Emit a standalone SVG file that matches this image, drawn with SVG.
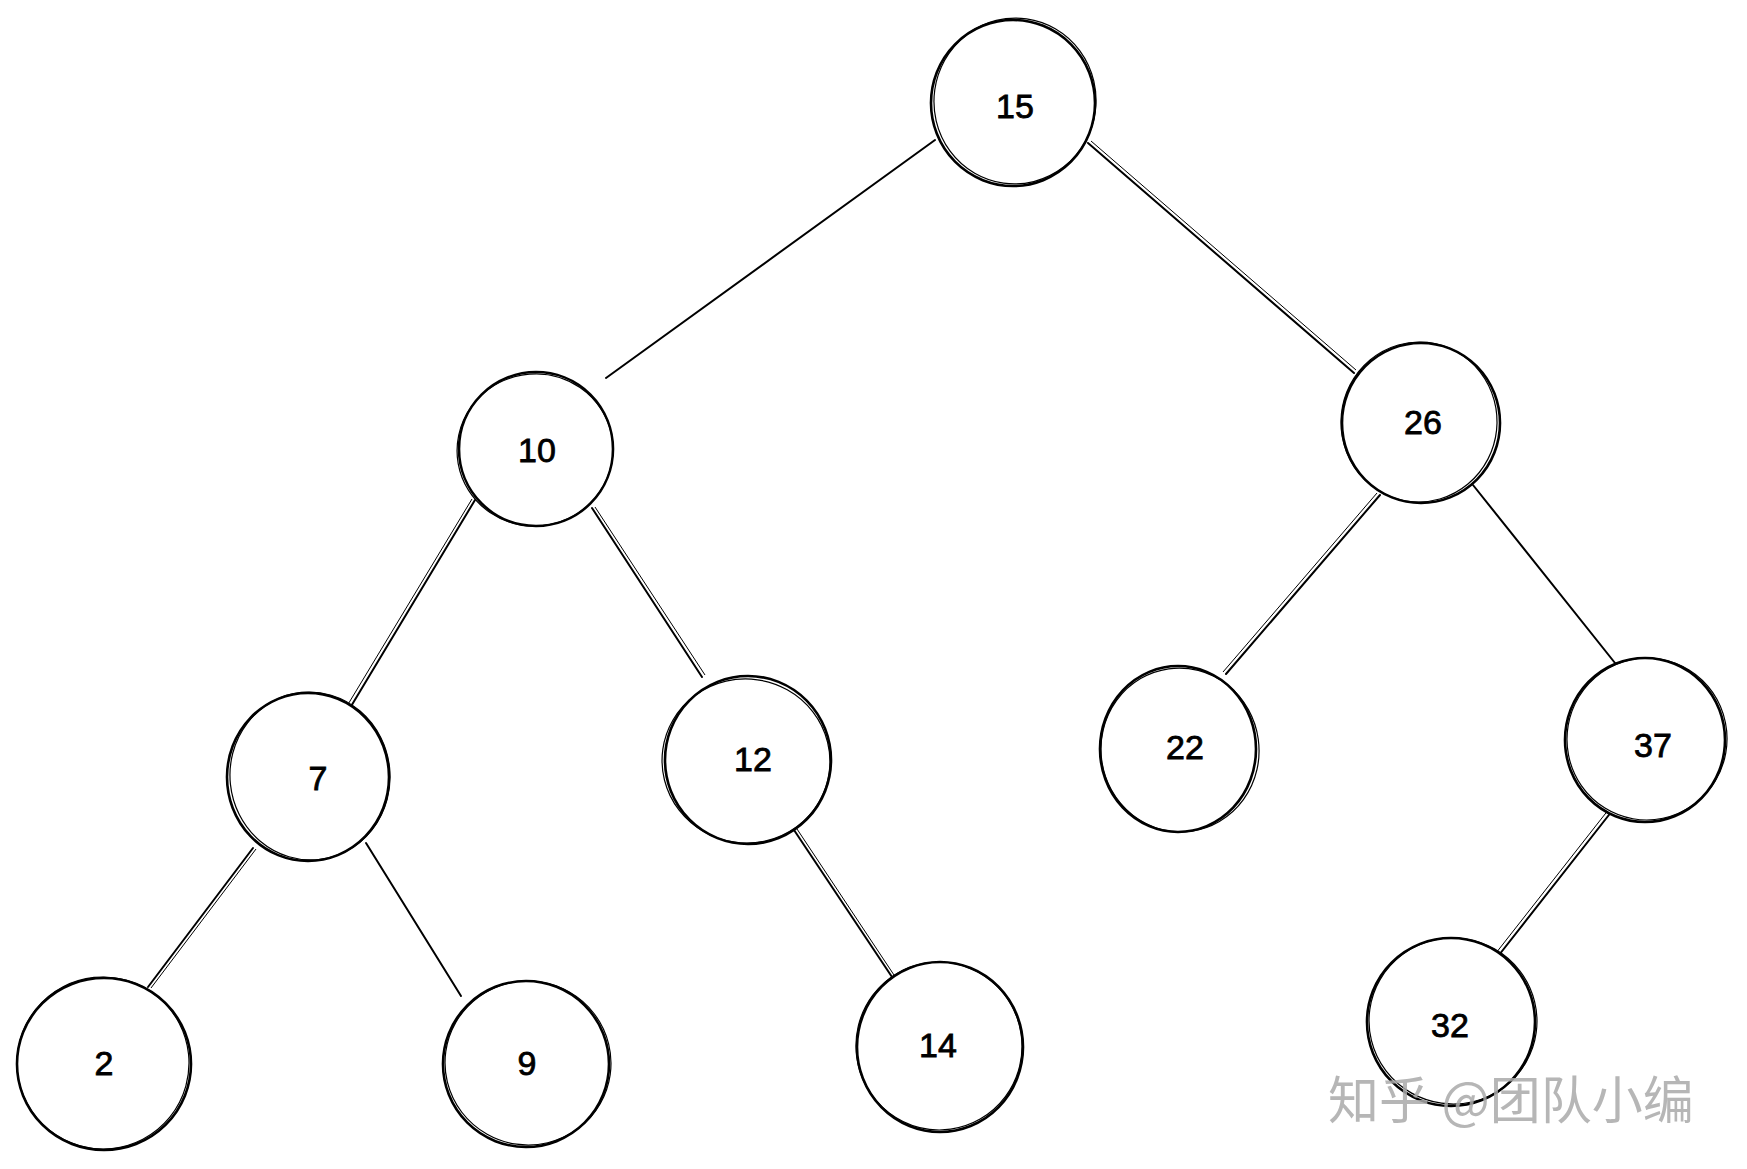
<svg xmlns="http://www.w3.org/2000/svg" width="1747" height="1169" viewBox="0 0 1747 1169">
<style>
.c{fill:#fff;stroke:#000;stroke-width:2.6}
.c2{fill:none;stroke:#000;stroke-width:1.2}
.e{stroke:#000;stroke-width:2;fill:none;stroke-linecap:round}
.e2{stroke:#000;stroke-width:1;fill:none}
.t{font-family:"Liberation Sans","DejaVu Sans",sans-serif;font-size:34px;fill:#000;stroke:#000;stroke-width:0.8;text-anchor:middle;dominant-baseline:central}
.wm{font-family:"Noto Sans CJK SC","Noto Sans",sans-serif;font-size:51px;fill:#a9a9a9;fill-opacity:0.85}
</style>
<rect width="1747" height="1169" fill="#fff"/>
<g id="edges">
<line class="e" x1="935" y1="140" x2="606" y2="378"/>
<line class="e" x1="1088" y1="143" x2="1354" y2="373"/><line class="e2" x1="1091" y1="141" x2="1356" y2="370"/>
<line class="e" x1="475" y1="500" x2="350" y2="708"/><line class="e2" x1="472" y1="499" x2="347" y2="706"/>
<line class="e" x1="592" y1="508" x2="702" y2="677"/><line class="e2" x1="595" y1="507" x2="705" y2="675"/>
<line class="e" x1="1380" y1="495" x2="1226" y2="674"/><line class="e2" x1="1377" y1="493" x2="1223" y2="672"/>
<line class="e" x1="1473" y1="485" x2="1615" y2="663"/>
<line class="e" x1="253" y1="848" x2="148" y2="987"/><line class="e2" x1="256" y1="849" x2="151" y2="988"/>
<line class="e" x1="366" y1="843" x2="461" y2="996"/>
<line class="e" x1="794" y1="830" x2="892" y2="977"/><line class="e2" x1="797" y1="829" x2="894" y2="975"/>
<line class="e" x1="1612" y1="811" x2="1499" y2="955"/><line class="e2" x1="1609" y1="809" x2="1496" y2="953"/>
</g>
<g id="n15"><ellipse class="c" cx="1013" cy="103" rx="82" ry="83"/><ellipse class="c2" cx="1015" cy="101" rx="81" ry="83" transform="rotate(8 1015 101)"/><text class="t" x="1015" y="106">15</text></g>
<g id="n10"><ellipse class="c" cx="536" cy="449" rx="77" ry="77"/><ellipse class="c2" cx="535" cy="450" rx="78" ry="76" transform="rotate(-10 535 450)"/><text class="t" x="537" y="450">10</text></g>
<g id="n26"><ellipse class="c" cx="1421" cy="423" rx="79" ry="80"/><ellipse class="c2" cx="1419" cy="422" rx="78" ry="80" transform="rotate(6 1419 422)"/><text class="t" x="1423" y="422">26</text></g>
<g id="n7"><ellipse class="c" cx="308" cy="777" rx="81" ry="84"/><ellipse class="c2" cx="310" cy="776" rx="80" ry="84" transform="rotate(-6 310 776)"/><text class="t" x="318" y="778">7</text></g>
<g id="n12"><ellipse class="c" cx="748" cy="760" rx="83" ry="84"/><ellipse class="c2" cx="746" cy="761" rx="84" ry="82" transform="rotate(8 746 761)"/><text class="t" x="753" y="759">12</text></g>
<g id="n22"><ellipse class="c" cx="1178" cy="749" rx="78" ry="83"/><ellipse class="c2" cx="1180" cy="750" rx="79" ry="82" transform="rotate(-8 1180 750)"/><text class="t" x="1185" y="747">22</text></g>
<g id="n37"><ellipse class="c" cx="1645" cy="740" rx="80" ry="82"/><ellipse class="c2" cx="1647" cy="739" rx="80" ry="81" transform="rotate(10 1647 739)"/><text class="t" x="1653" y="745">37</text></g>
<g id="n2"><ellipse class="c" cx="104" cy="1064" rx="87" ry="86"/><ellipse class="c2" cx="103" cy="1063" rx="86" ry="86" transform="rotate(-6 103 1063)"/><text class="t" x="104" y="1063">2</text></g>
<g id="n9"><ellipse class="c" cx="526" cy="1064" rx="83" ry="83"/><ellipse class="c2" cx="528" cy="1063" rx="83" ry="82" transform="rotate(8 528 1063)"/><text class="t" x="527" y="1063">9</text></g>
<g id="n14"><ellipse class="c" cx="940" cy="1047" rx="83" ry="85"/><ellipse class="c2" cx="939" cy="1046" rx="83" ry="84" transform="rotate(-8 939 1046)"/><text class="t" x="938" y="1045">14</text></g>
<g id="n32"><ellipse class="c" cx="1451" cy="1022" rx="84" ry="84"/><ellipse class="c2" cx="1453" cy="1021" rx="84" ry="83" transform="rotate(8 1453 1021)"/><text class="t" x="1450" y="1025">32</text></g>
<text class="wm" x="1328" y="1119">知乎 @团队小编</text>
</svg>
